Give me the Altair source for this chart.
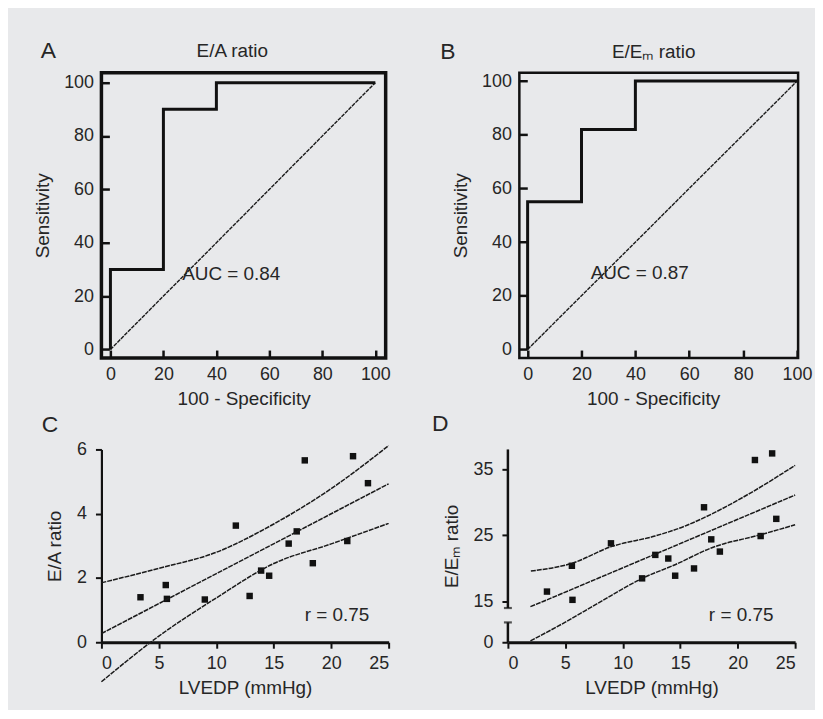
import altair as alt
import pandas as pd

FONT = "Liberation Sans"
TXT = "#262626"
BG = "#e8e9eb"

# ---------------- data ----------------
# Panel A: ROC for E/A ratio
roc_a_fpr = [0, 0, 20, 40, 100]
roc_a_tpr = [0, 30, 90, 100, 100]
# Panel B: ROC for E/Em ratio
roc_b_fpr = [0, 0, 20, 40, 100]
roc_b_tpr = [0, 55, 82, 100, 100]
chance_x = [0, 100]
chance_y = [0, 100]
roc_ticks = [0, 20, 40, 60, 80, 100]

# Panel C: E/A ratio vs LVEDP
c_lvedp = [3.4, 5.6, 5.7, 9.0, 11.7, 12.9, 13.9, 14.6, 16.3, 17.0, 17.7, 18.4, 21.4, 21.9, 23.2]
c_ea = [1.40, 1.78, 1.35, 1.33, 3.63, 1.44, 2.23, 2.07, 3.07, 3.45, 5.66, 2.46, 3.15, 5.79, 4.95]
c_fit_x = [0, 25]
c_fit_y = [0.27, 4.93]
c_ci_x = [0, 5, 10, 15, 20, 25]
c_upper = [1.85, 2.30, 2.80, 3.68, 4.78, 6.12]
c_lower = [-1.23, 0.19, 1.38, 2.45, 3.06, 3.70]

# Panel D: E/Em ratio vs LVEDP
d_lvedp = [3.4, 5.57, 5.62, 8.97, 11.68, 12.83, 13.96, 14.56, 16.2, 17.07, 17.7, 18.45, 21.5, 22.0, 23.0, 23.36]
d_eem = [16.5, 20.4, 15.25, 23.8, 18.5, 22.05, 21.5, 18.9, 20.0, 29.25, 24.4, 22.55, 36.4, 24.9, 37.4, 27.5]
d_fit_x = [1.96, 3.06, 25]
d_fit_y = [13.1, 15.0, 31.1]
d_up_x = [2, 5.6, 9, 12.8, 15.4, 17.7, 21.1, 25]
d_upper = [19.6, 20.8, 23.3, 24.9, 26.4, 28.2, 31.4, 35.6]
d_lo_x = [1.96, 5.0, 7.9, 11.7, 14.6, 17.7, 22.0, 25]
d_lower = [0.5, 7.4, 14.5, 18.5, 20.6, 23.1, 25.1, 26.6]
d_yticks = [0, 15, 25, 35]
d_break = [7.3, 12.6]          # axis break ends
lvedp_ticks = [0, 5, 10, 15, 20, 25]


def df(**cols):
    return pd.DataFrame(cols)


def text_layer(xv, yv, label, size, xs, ys, align="center"):
    return alt.Chart(df(x=[xv], y=[yv], t=[label])).mark_text(
        font=FONT, fontSize=size, color=TXT, align=align, baseline="middle"
    ).encode(
        x=alt.X("x:Q", scale=xs),
        y=alt.Y("y:Q", scale=ys),
        text="t:N",
    )


def roc_panel(fpr, tpr, xdom, ydom, frame, w, h, frame_w, yoff, letter, letter_xy,
              title, title_xy, auc, auc_xy):
    xs = alt.Scale(domain=xdom, nice=False, zero=False)
    ys = alt.Scale(domain=ydom, nice=False, zero=False)
    xaxis = alt.Axis(values=roc_ticks, title="100 - Specificity", domain=False,
                     grid=False, tickSize=8, offset=-8, tickWidth=2.5,
                     labelPadding=8, titlePadding=6)
    yaxis = alt.Axis(values=roc_ticks, title="Sensitivity", domain=False,
                     grid=False, tickSize=8, offset=-yoff, tickWidth=2.5,
                     labelPadding=8, titlePadding=11)
    diag = alt.Chart(df(x=chance_x, y=chance_y)).mark_line(
        color="#1a1a1a", strokeWidth=1.4, strokeDash=[4, 1]
    ).encode(x=alt.X("x:Q", scale=xs, axis=xaxis),
             y=alt.Y("y:Q", scale=ys, axis=yaxis))
    box = alt.Chart(df(x=[frame[0]], x2=[frame[1]], y=[frame[2]], y2=[frame[3]])).mark_rect(
        fillOpacity=0, stroke="#111111", strokeWidth=frame_w
    ).encode(x=alt.X("x:Q", scale=xs), x2="x2:Q",
             y=alt.Y("y:Q", scale=ys), y2="y2:Q")
    step = alt.Chart(df(x=fpr, y=tpr)).mark_line(
        color="#111111", strokeWidth=3, interpolate="step-after"
    ).encode(x=alt.X("x:Q", scale=xs), y=alt.Y("y:Q", scale=ys))
    layers = [
        diag, box, step,
        text_layer(letter_xy[0], letter_xy[1], letter, 23, xs, ys),
        text_layer(title_xy[0], title_xy[1], title, 19, xs, ys),
        text_layer(auc_xy[0], auc_xy[1], auc, 19, xs, ys),
    ]
    return alt.layer(*layers).properties(width=w, height=h)


A = roc_panel(roc_a_fpr, roc_a_tpr, [-3.4, 103.9], [-3.2, 103.7],
              [-3.4, 103.9, -3.2, 103.7], 286, 287, 3.5, 8,
              "A", (-23.4, 111.7), "E/A ratio", (46.0, 111.7),
              "AUC = 0.84", (45.6, 28.3))
B = roc_panel(roc_b_fpr, roc_b_tpr, [-7.32, 100.4], [-3.2, 103.1],
              [-3.07, 100.4, -3.2, 103.1], 292, 287, 2.5, 19.5,
              "B", (-29.6, 110.9), "E/E\u2098 ratio", (46.8, 110.9),
              "AUC = 0.87", (41.6, 28.3))

# ---------------- panel C ----------------
xsC = alt.Scale(domain=[0, 25], nice=False, zero=False)
ysC = alt.Scale(domain=[0, 6], nice=False, zero=False)
lineC = dict(color="#1a1a1a", strokeWidth=1.5, strokeDash=[5, 1])
x_lvedp_axis = alt.Axis(values=lvedp_ticks, title="LVEDP (mmHg)",
                        grid=False, domainWidth=3, domainColor="#111111", tickSize=6,
                        tickWidth=2, labelPadding=6, titlePadding=7)
c_pts = alt.Chart(df(x=c_lvedp, y=c_ea)).mark_square(
    size=42, color="#111111", opacity=1
).encode(
    x=alt.X("x:Q", scale=xsC, axis=x_lvedp_axis),
    y=alt.Y("y:Q", scale=ysC, axis=alt.Axis(values=[0, 2, 4, 6], title="E/A ratio",
            grid=False, domainWidth=2.2, domainColor="#111111", tickSize=6,
            tickWidth=2, labelPadding=9, titlePadding=12)),
)
c_fit = alt.Chart(df(x=c_fit_x, y=c_fit_y)).mark_line(**lineC).encode(
    x=alt.X("x:Q", scale=xsC), y=alt.Y("y:Q", scale=ysC))
c_up = alt.Chart(df(x=c_ci_x, y=c_upper)).mark_line(interpolate="monotone", **lineC).encode(
    x=alt.X("x:Q", scale=xsC), y=alt.Y("y:Q", scale=ysC))
c_lo = alt.Chart(df(x=c_ci_x, y=c_lower)).mark_line(interpolate="monotone", **lineC).encode(
    x=alt.X("x:Q", scale=xsC), y=alt.Y("y:Q", scale=ysC))
C = alt.layer(
    c_pts, c_up, c_fit, c_lo,
    text_layer(-4.47, 6.76, "C", 23, xsC, ysC),
    text_layer(20.5, 0.84, "r = 0.75", 19, xsC, ysC),
).properties(width=289, height=194)

# ---------------- panel D ----------------
xsD = alt.Scale(domain=[0, 25], nice=False, zero=False)
ysD = alt.Scale(domain=[0, 15, 38], range=[194, 153, 0], nice=False, zero=False)
d_pts = alt.Chart(df(x=d_lvedp, y=d_eem)).mark_square(
    size=42, color="#111111", opacity=1
).encode(
    x=alt.X("x:Q", scale=xsD, axis=x_lvedp_axis),
    y=alt.Y("y:Q", scale=ysD, axis=alt.Axis(values=d_yticks, title="E/E\u2098 ratio",
            grid=False, domain=False, tickSize=6,
            tickWidth=2, labelPadding=9, titlePadding=12)),
)
d_fit = alt.Chart(df(x=d_fit_x, y=d_fit_y)).mark_line(**lineC).encode(
    x=alt.X("x:Q", scale=xsD), y=alt.Y("y:Q", scale=ysD))
d_up = alt.Chart(df(x=d_up_x, y=d_upper)).mark_line(interpolate="monotone", **lineC).encode(
    x=alt.X("x:Q", scale=xsD), y=alt.Y("y:Q", scale=ysD))
d_lo = alt.Chart(df(x=d_lo_x, y=d_lower)).mark_line(interpolate="monotone", **lineC).encode(
    x=alt.X("x:Q", scale=xsD), y=alt.Y("y:Q", scale=ysD))
d_axis = alt.Chart(df(x=[0, 0], y=[0, d_break[1]], y2=[d_break[0], 38])).mark_rule(
    color="#111111", strokeWidth=2.5
).encode(x=alt.X("x:Q", scale=xsD), y=alt.Y("y:Q", scale=ysD), y2="y2:Q")
d_caps = alt.Chart(df(x=[0, 0], y=d_break)).mark_tick(
    orient="horizontal", color="#111111", size=8, thickness=2.2
).encode(x=alt.X("x:Q", scale=xsD), y=alt.Y("y:Q", scale=ysD))
D = alt.layer(
    d_pts, d_up, d_fit, d_lo, d_axis, d_caps,
    text_layer(-5.88, 41.9, "D", 23, xsD, ysD),
    text_layer(20.3, 9.9, "r = 0.75", 19, xsD, ysD),
).properties(width=289, height=194)

chart = alt.concat(
    A, B, C, D, columns=2, bounds="flush", align="each",
    spacing=alt.RowColnumber(row=92, column=120),
).configure(
    background=BG,
    padding={"left": 25, "top": 30, "right": 3, "bottom": 10},
).configure_view(stroke=None).configure_axis(
    labelFont=FONT, labelFontSize=18, labelColor=TXT,
    titleFont=FONT, titleFontSize=19, titleFontWeight="normal", titleColor=TXT,
    tickColor="#111111", grid=False,
)

chart.save("out.html", embed_options={"renderer": "svg", "actions": False})
